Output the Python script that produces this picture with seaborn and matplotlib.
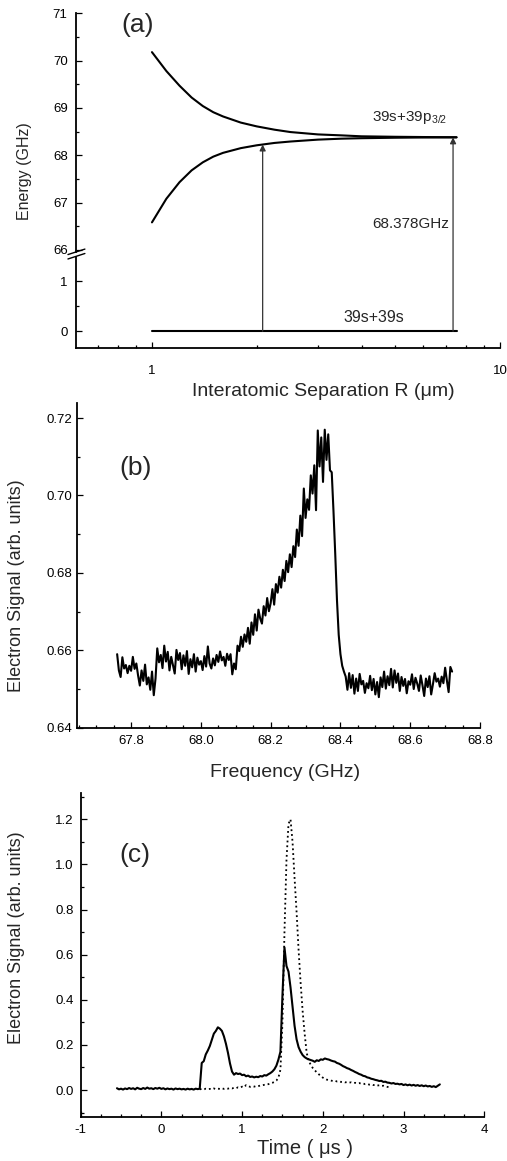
"""Three-panel figure: pair potentials, microwave spectrum and electron time-of-flight signal."""
import numpy as np
import matplotlib.pyplot as plt
import seaborn as sns
from matplotlib.patches import ConnectionPatch
from matplotlib.ticker import MultipleLocator, LogLocator, NullFormatter, FormatStrFormatter

# ---- panel (a): pair potential curves ----
sep_R = [1.0, 1.1, 1.2, 1.3, 1.4, 1.5, 1.6, 1.8, 2.0, 2.25, 2.5, 3.0, 3.5, 4.0, 5.0, 6.0, 7.5]
upper_E = [70.18, 69.78, 69.47, 69.22, 69.04, 68.91, 68.82, 68.69, 68.61, 68.54, 68.49,
           68.44, 68.42, 68.40, 68.39, 68.385, 68.38]
lower_E = [66.58, 67.08, 67.43, 67.68, 67.85, 67.97, 68.05, 68.15, 68.21, 68.26, 68.29,
           68.33, 68.35, 68.36, 68.37, 68.375, 68.378]
ground_R = [1.0, 7.5]
ground_E = [0.0, 0.0]
arrow_R = [2.08, 7.33]

# ---- panel (b): electron signal vs microwave frequency ----
freq_start, freq_step = 67.76, 0.005
signal_b = [
    0.6590, 0.6548, 0.6531, 0.6582, 0.6553, 0.6562, 0.6541, 0.6560, 0.6547, 0.6583, 0.6552, 0.6566, 0.6535,
    0.6509, 0.6548, 0.6521, 0.6563, 0.6512, 0.6530, 0.6498, 0.6545, 0.6484, 0.6527,
    0.6605, 0.6569, 0.6588, 0.6554, 0.6612, 0.6571, 0.6596, 0.6548, 0.6583, 0.6562, 0.6540, 0.6601,
    0.6575, 0.6593, 0.6551, 0.6587, 0.6560, 0.6598, 0.6539, 0.6577, 0.6556, 0.6590, 0.6545, 0.6581,
    0.6563, 0.6572, 0.6549, 0.6585, 0.6558, 0.6610, 0.6566, 0.6553, 0.6579, 0.6561, 0.6588, 0.6570,
    0.6597, 0.6574, 0.6583, 0.6560, 0.6591, 0.6575, 0.6590, 0.6538, 0.6566,
    0.6551, 0.6612, 0.6598, 0.6635, 0.6609, 0.6641, 0.6622, 0.6658, 0.6617, 0.6672, 0.6640, 0.6693,
    0.6651, 0.6705, 0.6682, 0.6669, 0.6714, 0.6690, 0.6735, 0.6701, 0.6722, 0.6758, 0.6718, 0.6771,
    0.6749, 0.6790, 0.6762, 0.6808, 0.6779, 0.6831, 0.6802, 0.6848, 0.6815, 0.6869, 0.6841, 0.6912,
    0.6870, 0.6948, 0.6895, 0.7018, 0.6942, 0.6990, 0.6963, 0.7052, 0.7005, 0.7078, 0.6962, 0.7168,
    0.7075, 0.7150, 0.7035, 0.7170, 0.7092, 0.7158,
    0.7065, 0.7060, 0.6960, 0.6850, 0.6730, 0.6640, 0.6590, 0.6560, 0.6545,
    0.6532, 0.6498, 0.6541, 0.6503, 0.6536, 0.6488, 0.6527, 0.6495, 0.6539, 0.6512, 0.6521, 0.6490,
    0.6515, 0.6502, 0.6534, 0.6497, 0.6526, 0.6486, 0.6518, 0.6479, 0.6530, 0.6505, 0.6545, 0.6501,
    0.6533, 0.6510, 0.6552, 0.6504, 0.6548, 0.6516, 0.6540, 0.6495, 0.6531, 0.6508, 0.6526, 0.6489,
    0.6520, 0.6511, 0.6538, 0.6500, 0.6529, 0.6514, 0.6495, 0.6535, 0.6510, 0.6482, 0.6527, 0.6505,
    0.6533, 0.6486, 0.6512, 0.6541, 0.6519, 0.6527, 0.6506, 0.6532, 0.6515, 0.6555, 0.6522, 0.6492,
    0.6557, 0.6545,
]

# ---- panel (c): electron signal vs time ----
solid_start, dotted_start, time_step = -0.55, 0.475, 0.025
solid_c = [
    0.008, 0.003, 0.006, 0.002, 0.007, 0.004, 0.009, 0.005, 0.008, 0.003, 0.010, 0.006, 0.004,
    0.009, 0.005, 0.011, 0.006, 0.008, 0.004, 0.009, 0.006, 0.010, 0.005, 0.008, 0.003, 0.007,
    0.004, 0.006, 0.002, 0.007, 0.004, 0.006, 0.003, 0.005, 0.002, 0.006, 0.003, 0.005, 0.002,
    0.006, 0.004, 0.006,
    0.120, 0.128, 0.158, 0.175, 0.195, 0.222, 0.250, 0.262, 0.278, 0.272, 0.262, 0.238, 0.205,
    0.165, 0.118, 0.082, 0.068, 0.075, 0.071, 0.073, 0.066, 0.068, 0.061, 0.064, 0.058, 0.060,
    0.056, 0.059, 0.057, 0.062, 0.060, 0.066, 0.064, 0.070, 0.075, 0.082, 0.092, 0.108, 0.135,
    0.170, 0.420, 0.632, 0.550, 0.525, 0.455, 0.370, 0.285, 0.225, 0.190, 0.170, 0.155, 0.146,
    0.140, 0.136, 0.133, 0.130, 0.125, 0.132, 0.129, 0.136, 0.134, 0.140, 0.137, 0.135, 0.131,
    0.128, 0.126, 0.120, 0.117, 0.112, 0.106, 0.102, 0.097, 0.094, 0.089, 0.085, 0.080, 0.076,
    0.071, 0.068, 0.063, 0.061, 0.056, 0.054, 0.050, 0.048, 0.045, 0.043, 0.040, 0.041, 0.036,
    0.037, 0.033, 0.032, 0.029, 0.031, 0.027, 0.028, 0.025, 0.027, 0.022, 0.025, 0.021, 0.024,
    0.020, 0.023, 0.019, 0.022, 0.018, 0.021, 0.017, 0.020, 0.016, 0.018, 0.014, 0.017, 0.013,
    0.019, 0.025,
]
dotted_c = [
    0.003, 0.005, 0.002, 0.006, 0.004, 0.005, 0.003, 0.007, 0.004, 0.006, 0.005, 0.008, 0.005,
    0.007, 0.006, 0.009, 0.007, 0.010, 0.008, 0.012, 0.010, 0.015, 0.012, 0.022, 0.018, 0.014,
    0.016, 0.015, 0.018, 0.017, 0.020, 0.021, 0.023, 0.024, 0.026, 0.029, 0.032, 0.036, 0.042,
    0.055, 0.090, 0.300, 0.700, 1.020, 1.180, 1.200, 1.100, 0.940, 0.790, 0.620, 0.475, 0.350,
    0.250, 0.165, 0.130, 0.112, 0.098, 0.088, 0.078, 0.070, 0.062, 0.055, 0.050, 0.046, 0.044,
    0.042, 0.040, 0.041, 0.038, 0.039, 0.036, 0.037, 0.034, 0.035, 0.033, 0.034, 0.031, 0.032,
    0.030, 0.031, 0.028, 0.029, 0.026, 0.027, 0.024, 0.025, 0.022, 0.023, 0.020, 0.021, 0.018,
    0.019, 0.016, 0.014, 0.012, 0.010,
]

freq_b = freq_start + freq_step * np.arange(len(signal_b))
t_solid = solid_start + time_step * np.arange(len(solid_c))
t_dotted = dotted_start + time_step * np.arange(len(dotted_c))

sns.set_theme(style="ticks")
plt.rcParams["font.family"] = ["Liberation Sans", "DejaVu Sans"]
plt.rcParams["mathtext.fontset"] = "custom"
plt.rcParams["mathtext.rm"] = "Liberation Sans"
plt.rcParams["axes.unicode_minus"] = False

TICK_FS = 9.5
LINE_KW = dict(color="black", linewidth=1.5)


def origin_style(ax, pad_x=5, pad_y=4):
    for side in ("top", "right"):
        ax.spines[side].set_visible(False)
    for side in ("left", "bottom"):
        ax.spines[side].set_linewidth(1.3)
        ax.spines[side].set_color("black")
    ax.tick_params(which="both", direction="in", width=0.9, colors="black",
                   labelsize=TICK_FS, top=False, right=False)
    ax.tick_params(which="major", length=4.5)
    ax.tick_params(which="minor", length=2.5)
    ax.tick_params(axis="x", pad=pad_x)
    ax.tick_params(axis="y", pad=pad_y)


fig = plt.figure(figsize=(5.07, 11.61), dpi=100)
ax_hi = fig.add_axes([0.1499, 0.7832, 0.8363, 0.2053])
ax_lo = fig.add_axes([0.1499, 0.7000, 0.8363, 0.0789])
ax_b = fig.add_axes([0.1519, 0.3732, 0.7949, 0.2797])
ax_c = fig.add_axes([0.1591, 0.0382, 0.7960, 0.2790])

# ---------------- (a) ----------------
for ax in (ax_hi, ax_lo):
    ax.set_xscale("log")
    ax.set_xlim(0.605, 10)
    origin_style(ax, pad_x=12, pad_y=6)

sns.lineplot(x=sep_R, y=upper_E, ax=ax_hi, **LINE_KW)
sns.lineplot(x=sep_R, y=lower_E, ax=ax_hi, **LINE_KW)
sns.lineplot(x=ground_R, y=ground_E, ax=ax_lo, **LINE_KW)

ax_hi.set_ylim(65.96, 71.0)
ax_hi.yaxis.set_major_locator(MultipleLocator(1))
ax_hi.yaxis.set_minor_locator(MultipleLocator(0.5))
ax_hi.yaxis.set_major_formatter(FormatStrFormatter("%d"))
ax_hi.spines["bottom"].set_visible(False)
ax_hi.tick_params(axis="x", which="both", bottom=False, labelbottom=False)

ax_lo.set_ylim(-0.34, 1.49)
ax_lo.set_yticks([0, 1], labels=["0", "1"])
ax_lo.yaxis.set_minor_locator(MultipleLocator(0.5))
ax_lo.spines["top"].set_visible(False)
ax_lo.set_xticks([1, 10], labels=["1", "10"])
ax_lo.xaxis.set_minor_locator(LogLocator(base=10, subs=np.arange(2, 10)))
ax_lo.xaxis.set_minor_formatter(NullFormatter())

# transition arrows from the ground pair state up to the coupled curves
log_R = np.log(sep_R)
for r in arrow_R:
    tip = np.interp(np.log(r), log_R, lower_E)
    con = ConnectionPatch(xyA=(r, 0.0), coordsA=ax_lo.transData,
                          xyB=(r, tip), coordsB=ax_hi.transData,
                          arrowstyle="-|>", mutation_scale=9, shrinkA=0, shrinkB=0,
                          lw=0.9, color="0.2")
    fig.add_artist(con)

# axis break marks
kw = dict(color="black", lw=1.0, clip_on=False)
ax_hi.plot([-0.019, 0.021], [-0.012, 0.011], transform=ax_hi.transAxes, **kw)
ax_lo.plot([-0.019, 0.021], [0.975, 1.035], transform=ax_lo.transAxes, **kw)

ax_hi.text(4.30, 68.80, r"39s+39p$_{\mathregular{3/2}}$", fontsize=11, ha="left", va="center")
ax_hi.text(4.30, 66.54, "68.378GHz", fontsize=11, ha="left", va="center")
ax_lo.text(3.55, 0.27, "39s+39s", fontsize=11.5, ha="left", va="center")
ax_hi.text(0.146, 0.951, "(a)", transform=ax_hi.transAxes, fontsize=19, ha="center", va="center")

ax_hi.set_ylabel("Energy (GHz)", fontsize=11.5)
ax_hi.yaxis.set_label_coords(-0.1045, 0.3385)
ax_lo.set_xlabel("Interatomic Separation R (\u03bcm)", fontsize=14)
ax_lo.xaxis.set_label_coords(0.5825, -0.379)

# ---------------- (b) ----------------
origin_style(ax_b, pad_x=5, pad_y=3.5)
sns.lineplot(x=freq_b, y=signal_b, ax=ax_b, **LINE_KW)
ax_b.set_xlim(67.645, 68.8)
ax_b.set_ylim(0.64, 0.7239)
ax_b.xaxis.set_major_locator(MultipleLocator(0.2))
ax_b.xaxis.set_minor_locator(MultipleLocator(0.05))
ax_b.xaxis.set_major_formatter(FormatStrFormatter("%.1f"))
ax_b.yaxis.set_major_locator(MultipleLocator(0.02))
ax_b.yaxis.set_minor_locator(MultipleLocator(0.01))
ax_b.yaxis.set_major_formatter(FormatStrFormatter("%.2f"))
ax_b.set_xlabel("Frequency (GHz)", fontsize=14)
ax_b.xaxis.set_label_coords(0.517, -0.112)
ax_b.set_ylabel("Electron Signal (arb. units)", fontsize=13)
ax_b.yaxis.set_label_coords(-0.129, 0.438)
ax_b.text(0.145, 0.80, "(b)", transform=ax_b.transAxes, fontsize=19, ha="center", va="center")

# ---------------- (c) ----------------
origin_style(ax_c, pad_x=5, pad_y=5)
sns.lineplot(x=t_solid, y=solid_c, ax=ax_c, **LINE_KW)
sns.lineplot(x=t_dotted, y=dotted_c, ax=ax_c, color="black", linewidth=1.3, linestyle=":")
ax_c.set_xlim(-1, 4)
ax_c.set_ylim(-0.118, 1.318)
ax_c.xaxis.set_major_locator(MultipleLocator(1))
ax_c.xaxis.set_minor_locator(MultipleLocator(0.25))
ax_c.xaxis.set_major_formatter(FormatStrFormatter("%d"))
ax_c.yaxis.set_major_locator(MultipleLocator(0.2))
ax_c.yaxis.set_minor_locator(MultipleLocator(0.1))
ax_c.yaxis.set_major_formatter(FormatStrFormatter("%.1f"))
ax_c.set_xlabel("Time ( \u03bcs )", fontsize=14.5)
ax_c.xaxis.set_label_coords(0.556, -0.069)
ax_c.set_ylabel("Electron Signal (arb. units)", fontsize=13)
ax_c.yaxis.set_label_coords(-0.138, 0.553)
ax_c.text(0.1345, 0.808, "(c)", transform=ax_c.transAxes, fontsize=19, ha="center", va="center")

fig.savefig("out.png", dpi=100)
